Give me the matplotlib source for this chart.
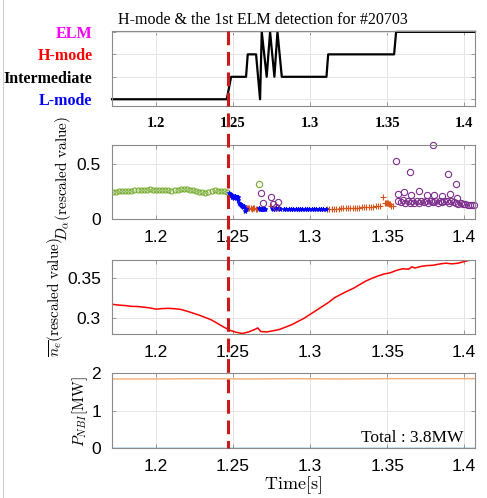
import numpy as np
import matplotlib
matplotlib.use("Agg")
import matplotlib.pyplot as plt
from matplotlib import transforms
from matplotlib.lines import Line2D

plt.rcParams['mathtext.fontset'] = 'cm'
SERIF = 'Liberation Serif'
SANS = 'Liberation Sans'

# ---------------- data ----------------
# Panel 1: plasma state (1=L-mode, 2=Intermediate, 3=H-mode, 4=ELM)
state_t = [1.1714, 1.2459, 1.2487, 1.2584, 1.2595, 1.2649, 1.2675, 1.2686, 1.2718,
           1.2740, 1.2768, 1.2788, 1.2816, 1.3106, 1.3117, 1.3545, 1.3558, 1.4070]
state_v = [1, 1, 2, 2, 3, 3, 1, 4, 2, 4, 2, 4, 2, 2, 3, 3, 4, 4]
state_labels = ['L-mode', 'Intermediate', 'H-mode', 'ELM']
state_colors = ['blue', 'black', 'red', 'magenta']

# Panel 2: D-alpha (rescaled), split by classification
green_t = np.arange(1.172, 1.2465, 0.002)
green_v = [0.250, 0.250, 0.252, 0.255, 0.255, 0.256, 0.258, 0.260, 0.260, 0.262,
           0.262, 0.265, 0.270, 0.265, 0.262, 0.260, 0.260, 0.262, 0.260, 0.258,
           0.262, 0.266, 0.272, 0.278, 0.272, 0.266, 0.262, 0.258, 0.250, 0.242,
           0.238, 0.248, 0.258, 0.262, 0.258, 0.255, 0.252, 0.250]
green_extra_t = [1.2671]
green_extra_v = [0.318]

blue_t = [1.2475, 1.2480, 1.2485, 1.2490, 1.2495, 1.2500, 1.2505, 1.2510, 1.2515,
          1.2520, 1.2525, 1.2530, 1.2535, 1.2540, 1.2545, 1.2550, 1.2555, 1.2560,
          1.2565, 1.2570, 1.2577, 1.2582,
          1.2665, 1.2672, 1.2679, 1.2686, 1.2693, 1.2700, 1.2708,
          1.2752, 1.2760, 1.2770, 1.2780, 1.2795, 1.2805,
          1.2830, 1.2845, 1.2860, 1.2875, 1.2890, 1.2905, 1.2920, 1.2935, 1.2950,
          1.2965, 1.2980, 1.2995, 1.3010, 1.3025, 1.3040, 1.3055, 1.3070, 1.3085,
          1.3100]
blue_v = [0.240, 0.225, 0.215, 0.205, 0.215, 0.200, 0.190, 0.200, 0.210,
          0.200, 0.205, 0.198, 0.170, 0.150, 0.140, 0.130, 0.120, 0.125,
          0.110, 0.115, 0.075, 0.090,
          0.100, 0.092, 0.095, 0.090, 0.092, 0.095, 0.090,
          0.100, 0.095, 0.092, 0.098, 0.100, 0.095,
          0.095, 0.092, 0.090, 0.092, 0.090, 0.090, 0.091, 0.090, 0.090,
          0.091, 0.090, 0.090, 0.091, 0.090, 0.090, 0.091, 0.090, 0.090,
          0.091]

orange_t = [1.2590, 1.2598, 1.2606, 1.2614, 1.2622, 1.2630, 1.2638, 1.2646, 1.2654,
            1.2745, 1.2790,
            1.3110, 1.3125, 1.3140, 1.3155, 1.3170, 1.3185, 1.3200, 1.3215, 1.3230,
            1.3245, 1.3260, 1.3275, 1.3290, 1.3305, 1.3320, 1.3335, 1.3350, 1.3365,
            1.3380, 1.3395, 1.3410, 1.3425, 1.3440, 1.3455,
            1.3476, 1.3485, 1.3492, 1.3499, 1.3506, 1.3513, 1.3520, 1.3528, 1.3536]
orange_v = [0.098, 0.100, 0.096, 0.098, 0.095, 0.097, 0.096, 0.094, 0.095,
            0.115, 0.100,
            0.090, 0.092, 0.092, 0.093, 0.094, 0.095, 0.096, 0.096, 0.097,
            0.098, 0.099, 0.100, 0.100, 0.102, 0.104, 0.105, 0.106, 0.108,
            0.110, 0.112, 0.114, 0.115, 0.117, 0.118,
            0.200, 0.145, 0.150, 0.142, 0.145, 0.140, 0.135, 0.120, 0.115]

purple_t = [1.2682, 1.2693, 1.2744, 1.2757, 1.2779, 1.2794,
            1.3556, 1.3567, 1.3606, 1.3645, 1.3656, 1.3705, 1.3758, 1.3796, 1.3807,
            1.3857, 1.3894, 1.3907, 1.3946, 1.3956,
            1.3572, 1.3587, 1.3602, 1.3617, 1.3632, 1.3647, 1.3662, 1.3677, 1.3692,
            1.3707, 1.3722, 1.3737, 1.3752, 1.3767, 1.3782, 1.3797, 1.3812, 1.3827,
            1.3842, 1.3857, 1.3872, 1.3887, 1.3902, 1.3917, 1.3932, 1.3947, 1.3962,
            1.3977, 1.3992, 1.4007, 1.4022, 1.4037, 1.4052, 1.4065]
purple_v = [0.236, 0.150, 0.205, 0.140, 0.105, 0.155,
            0.533, 0.230, 0.245, 0.427, 0.215, 0.257, 0.221, 0.675, 0.221,
            0.212, 0.412, 0.227, 0.318, 0.190,
            0.165, 0.155, 0.170, 0.150, 0.160, 0.145, 0.165, 0.150, 0.160,
            0.145, 0.165, 0.155, 0.160, 0.150, 0.165, 0.155, 0.160, 0.150,
            0.165, 0.155, 0.160, 0.165, 0.150, 0.160, 0.155, 0.150, 0.140,
            0.145, 0.135, 0.140, 0.130, 0.125, 0.125, 0.125]

# Panel 3: line-averaged density (rescaled)
ne_t = [1.172, 1.176, 1.180, 1.184, 1.188, 1.192, 1.196, 1.200, 1.204, 1.208,
        1.212, 1.216, 1.220, 1.224, 1.228, 1.232, 1.236, 1.240, 1.244, 1.248,
        1.252, 1.256, 1.260, 1.264, 1.266, 1.268, 1.272, 1.276, 1.280, 1.284,
        1.288, 1.292, 1.296, 1.300, 1.304, 1.308, 1.312, 1.316, 1.320, 1.324,
        1.328, 1.332, 1.336, 1.340, 1.344, 1.348, 1.352, 1.356, 1.360, 1.364,
        1.366, 1.368, 1.372, 1.376, 1.380, 1.384, 1.388, 1.392, 1.396, 1.400,
        1.404, 1.407]
ne_v = [0.3175, 0.3165, 0.3160, 0.3150, 0.3148, 0.3140, 0.3130, 0.3115, 0.3122, 0.3125,
        0.3120, 0.3112, 0.3090, 0.3065, 0.3040, 0.3010, 0.2980, 0.2935, 0.2890, 0.2850,
        0.2825, 0.2810, 0.2830, 0.2860, 0.2880, 0.2835, 0.2830, 0.2845, 0.2860, 0.2890,
        0.2920, 0.2960, 0.3000, 0.3050, 0.3100, 0.3150, 0.3200, 0.3260, 0.3300, 0.3340,
        0.3375, 0.3420, 0.3465, 0.3500, 0.3530, 0.3555, 0.3570, 0.3600, 0.3620, 0.3615,
        0.3645, 0.3630, 0.3650, 0.3660, 0.3665, 0.3680, 0.3690, 0.3682, 0.3690, 0.3710,
        0.3730, 0.3740]

# Panel 4: NBI power
nbi_t = [1.1714, 1.20, 1.23, 1.26, 1.29, 1.32, 1.35, 1.38, 1.407]
nbi1_v = [1.84, 1.84, 1.85, 1.84, 1.85, 1.84, 1.85, 1.85, 1.85]
nbi2_v = [0.0, 0.0, 0.0, 0.0, 0.0, 0.0, 0.0, 0.0, 0.0]

t_detect = 1.2468
xticks = [1.2, 1.25, 1.3, 1.35, 1.4]
xtick_labels = ['1.2', '1.25', '1.3', '1.35', '1.4']
xlim = (1.1714, 1.407)

# ---------------- figure ----------------
W, H = 487, 498
fig = plt.figure(figsize=(W / 100, H / 100), dpi=100)

def ax_at(x0, y0, x1, y1):
    return fig.add_axes([x0 / W, 1 - y1 / H, (x1 - x0) / W, (y1 - y0) / H])

ax1 = ax_at(112, 31, 475, 106)
ax2 = ax_at(112, 145, 475, 219)
ax3 = ax_at(112, 260, 475, 334)
ax4 = ax_at(112, 373, 475, 448.3)

frame_c = '#8a8a8a'
for ax in (ax1, ax2, ax3, ax4):
    ax.set_xlim(*xlim)
    ax.set_xticks(xticks)
    ax.grid(True, color='#e6e6e6', linewidth=0.7)
    ax.set_axisbelow(True)
    for s in ax.spines.values():
        s.set_color(frame_c)
        s.set_linewidth(0.8)
    ax.tick_params(direction='in', length=3, width=0.6, color=frame_c,
                   top=True, right=True, pad=8)

# Panel 1
ax1.plot(state_t, state_v, color='black', linewidth=1.6, clip_on=False)
ax1.set_ylim(0.7, 4.04)
ax1.set_yticks([1, 2, 3, 4])
ax1.set_yticklabels(state_labels, fontfamily=SERIF, fontweight='bold', fontsize=11.5)
for lab, c in zip(ax1.get_yticklabels(), state_colors):
    lab.set_color(c)
ax1.tick_params(axis='y', pad=14)
ax1.set_xticklabels(xtick_labels, fontfamily=SERIF, fontweight='bold', fontsize=10.5)
fig.text(263 / W, 1 - 20.5 / H, 'H-mode & the 1st ELM detection for #20703',
         fontfamily=SERIF, fontsize=11.5, ha='center', va='center')

sans_kw = dict(fontfamily=SANS, fontsize=12.5)

# Panel 2
ax2.plot(green_t, green_v, 'o', mfc='none', mec=(0.466, 0.674, 0.188), ms=3.6, mew=0.8)
ax2.plot(green_extra_t, green_extra_v, 'o', mfc='none', mec=(0.466, 0.674, 0.188), ms=4.5, mew=0.8)
ax2.plot(orange_t, orange_v, '+', color=(0.85, 0.325, 0.098), ms=4, mew=0.8)
ax2.plot(blue_t, blue_v, '*', color='blue', ms=3.5, mew=0.6)
ax2.plot(purple_t, purple_v, 'o', mfc='none', mec=(0.494, 0.184, 0.556), ms=4.5, mew=0.8,
         clip_on=False)
ax2.set_ylim(0, 0.675)
ax2.set_yticks([0, 0.5])
ax2.set_yticklabels(['0', '0.5'], **sans_kw)
ax2.set_xticklabels(xtick_labels, **sans_kw)
fig.text(63 / W, 1 - 178 / H, r'$D_\alpha\mathrm{(rescaled\ value)}$', rotation=90,
         fontsize=11, ha='center', va='center')

# Panel 3
ax3.plot(ne_t, ne_v, color='red', linewidth=1.1)
ax3.set_ylim(0.2804, 0.373)
ax3.set_yticks([0.3, 0.35])
ax3.set_yticklabels(['0.3', '0.35'], **sans_kw)
ax3.set_xticklabels(xtick_labels, **sans_kw)
fig.text(55 / W, 1 - 297 / H, r'$\overline{n_e}\mathrm{(rescaled\ value)}$', rotation=90,
         fontsize=11, ha='center', va='center')

# Panel 4
ax4.plot(nbi_t, nbi2_v, color=(0.0, 0.447, 0.741), linewidth=1.0)
ax4.plot(nbi_t, nbi1_v, color=(0.929, 0.60, 0.30), linewidth=1.0, alpha=0.8)
ax4.set_ylim(0, 2)
ax4.set_yticks([0, 1, 2])
ax4.set_yticklabels(['0', '1', '2'], **sans_kw)
ax4.set_xticklabels(xtick_labels, **sans_kw)
fig.text(80 / W, 1 - 412 / H, r'$P_{NBI}\mathrm{[MW]}$', rotation=90,
         fontsize=11, ha='center', va='center')
ax4.text(463 / W, 1 - 438 / H, 'Total : 3.8MW', transform=fig.transFigure,
         fontfamily=SERIF, fontsize=12.5, ha='right', va='center')
fig.text(293 / W, 1 - 485.5 / H, r'$\mathrm{Time[s]}$', fontsize=13,
         ha='center', va='center')

# Detection marker spanning all panels
trans = transforms.blended_transform_factory(ax1.transData, fig.transFigure)
fig.add_artist(Line2D([t_detect, t_detect], [1 - 31 / H, 1 - 448 / H], transform=trans,
                      color=(0.8, 0.1, 0.1), linewidth=2.2, linestyle=(0, (4.5, 2.2))))
# left border line
fig.add_artist(Line2D([2.5 / W, 2.5 / W], [0, 1], transform=fig.transFigure,
                      color='#cfcfcf', linewidth=0.8))

fig.savefig('out.png', dpi=100)
